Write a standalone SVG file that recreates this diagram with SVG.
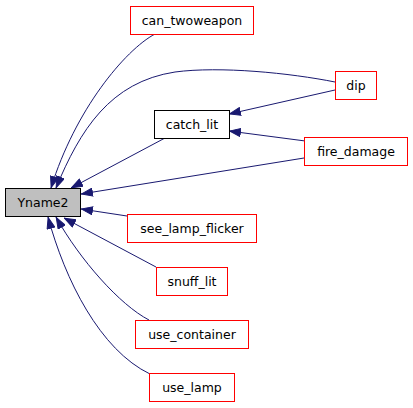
<svg xmlns="http://www.w3.org/2000/svg" width="413" height="408" viewBox="0 0 413 408">
<style>
.n rect{fill:#fff;stroke:#ff0000;stroke-width:1}
.n text{font-family:"DejaVu Sans",Verdana,sans-serif;font-size:12.5px;text-anchor:middle;fill:#000}
#Yname2 rect{fill:#bfbfbf;stroke:#000}
#catch_lit rect{stroke:#000}
.e path{fill:none;stroke:#191970;stroke-width:1;marker-end:url(#ah)}
</style>
<defs>
<marker id="ah" viewBox="0 0 12 9" refX="12" refY="4.5" markerWidth="12" markerHeight="9" markerUnits="userSpaceOnUse" orient="auto">
<path d="M0.5,0.5 L11.5,4.5 L0.5,8.5 z" fill="#191970" stroke="#191970"/>
</marker>
</defs>
<rect width="413" height="408" fill="#fff"/>
<g id="edges" class="e">
<path d="M155,34 C125,50 75,110 51,188"/>
<path d="M335,82 C290,73 220,66 175,72 C110,82 80,130 56,188"/>
<path d="M165,138 L71,188"/>
<path d="M304,158 L81,194"/>
<path d="M335,90 L229,114"/>
<path d="M313,142 L229,131"/>
<path d="M127,216 L81,209"/>
<path d="M156,267 L64,218"/>
<path d="M149,320 C120,305 80,260 56,217"/>
<path d="M150,374 C100,350 65,280 48,217"/>
</g>
<g id="Yname2" class="n"><rect x="5.5" y="188.5" width="75" height="28"/><text x="43" y="207">Yname2</text></g>
<g id="can_twoweapon" class="n"><rect x="130.5" y="6.5" width="123" height="28"/><text x="192" y="25">can_twoweapon</text></g>
<g id="catch_lit" class="n"><rect x="154.5" y="110.5" width="75" height="28"/><text x="192" y="129">catch_lit</text></g>
<g id="dip" class="n"><rect x="335.5" y="71.5" width="41" height="28"/><text x="356" y="90">dip</text></g>
<g id="fire_damage" class="n"><rect x="304.5" y="137.5" width="103" height="28"/><text x="356" y="156">fire_damage</text></g>
<g id="see_lamp_flicker" class="n"><rect x="127.5" y="214.5" width="129" height="28"/><text x="192" y="233">see_lamp_flicker</text></g>
<g id="snuff_lit" class="n"><rect x="156.5" y="267.5" width="71" height="28"/><text x="192" y="286">snuff_lit</text></g>
<g id="use_container" class="n"><rect x="135.5" y="320.5" width="113" height="28"/><text x="192" y="339">use_container</text></g>
<g id="use_lamp" class="n"><rect x="149.5" y="373.5" width="85" height="28"/><text x="192" y="392">use_lamp</text></g>
</svg>
